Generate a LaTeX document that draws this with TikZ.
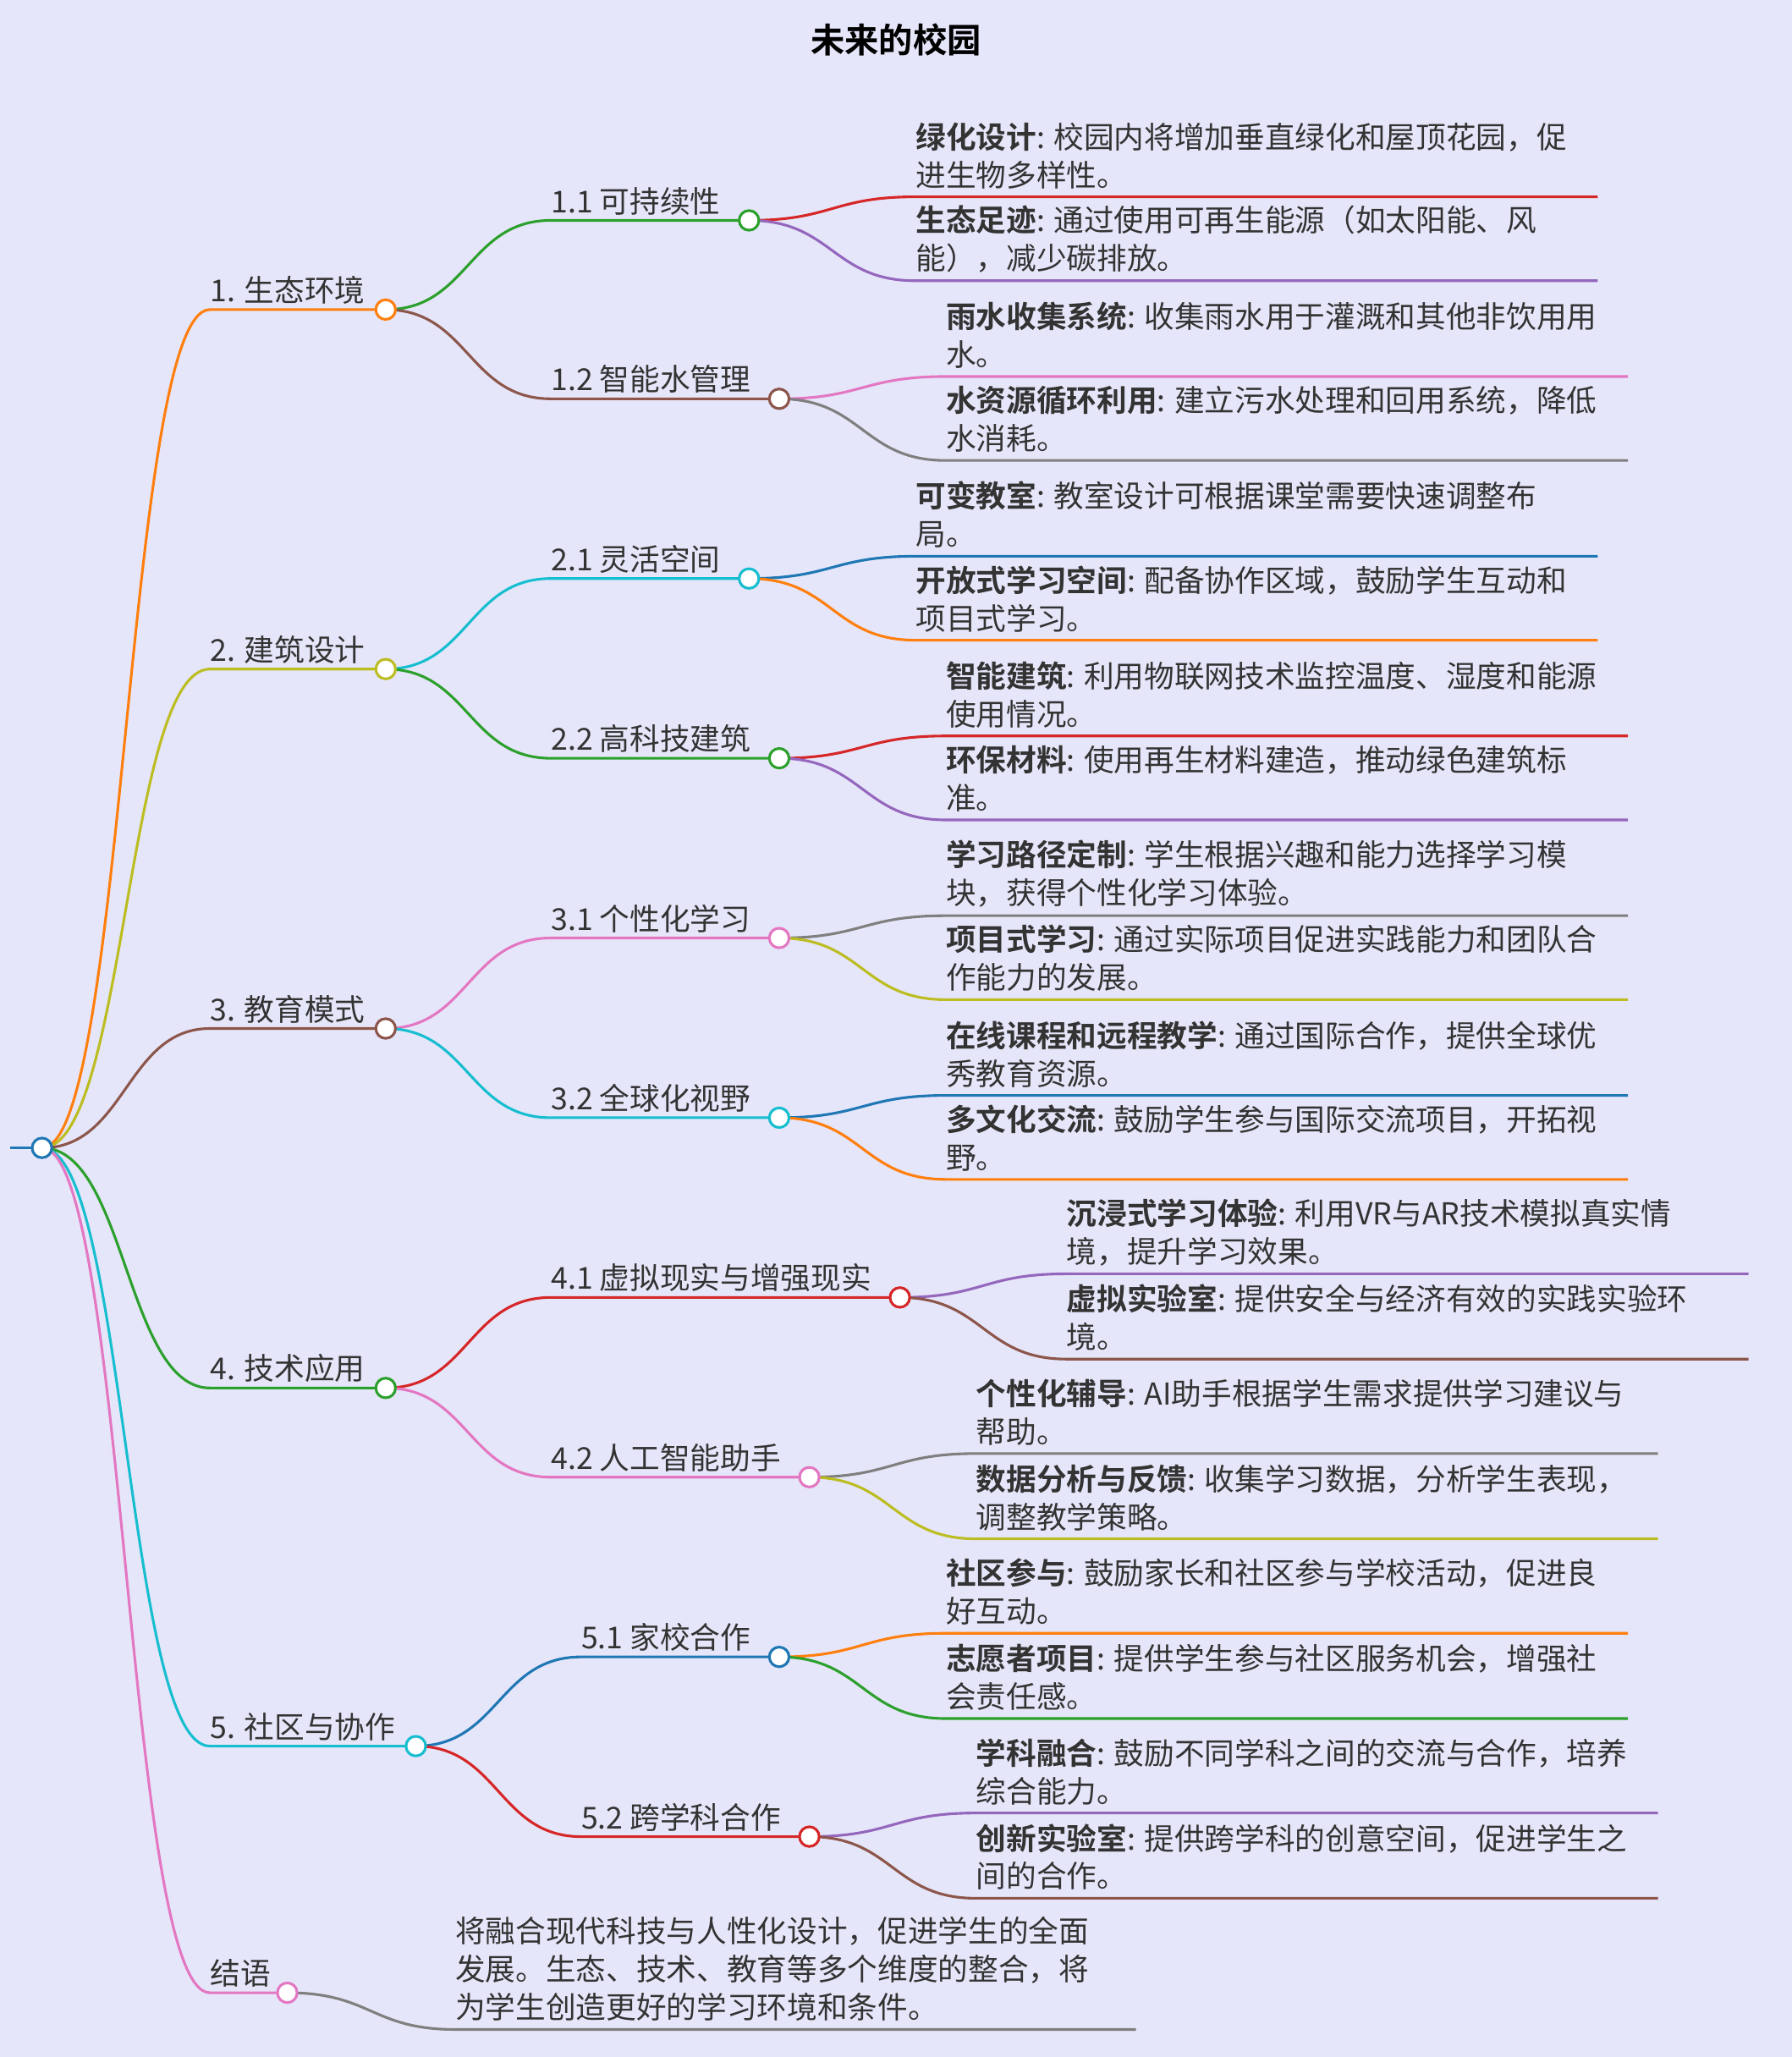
\documentclass[tikz,border=0pt]{standalone}
\usepackage{fontspec}
\setmainfont{Noto Sans CJK SC}[BoldFont={Noto Sans CJK SC Bold}]
\definecolor{bg}{HTML}{E6E6FA}
\definecolor{cO}{HTML}{FF7F0E}\definecolor{cG}{HTML}{2CA02C}\definecolor{cR}{HTML}{D62728}
\definecolor{cP}{HTML}{9467BD}\definecolor{cB}{HTML}{8C564B}\definecolor{cK}{HTML}{E377C2}
\definecolor{cY}{HTML}{7F7F7F}\definecolor{cL}{HTML}{BCBD22}\definecolor{cC}{HTML}{17BECF}
\definecolor{cU}{HTML}{1F77B4}\definecolor{tx}{HTML}{333333}
\newcommand\mmedge[6]{\draw[#1,line width=2pt] (#2,#3) .. controls ({(#2+#4)/2},#3) and ({(#2+#4)/2},#5) .. (#4,#5) -- ({#6},#5);}
\newcommand\mmdot[4]{\node[draw=#1,fill=white,circle,line width=2pt,minimum size=15pt,inner sep=0] (#4) at (#2,#3) {};}
\newcommand\mmlab[3]{\node[anchor=south west,inner sep=0,font=\fontsize{23}{29}\selectfont,text=tx] at (#1,{#2-4}) {#3};}
\newcommand\mmleaf[5]{\mmedge{#3}{#1}{#2}{#4}{#5}{#4+520}}
\begin{document}
\begin{tikzpicture}[x=1pt,y=-1pt]
\fill[bg] (0,0) rectangle (1366,1568);
\useasboundingbox (0,0) rectangle (1366,1568);
\node[font=\fontsize{26}{30}\selectfont\bfseries] (title) at (683,30) {未来的校园};
% level 1
\draw[cU,line width=2pt] (8,875) -- (32,875);
\mmedge{cO}{32}{875}{160}{236}{294}
\mmedge{cL}{32}{875}{160}{510}{294}
\mmedge{cB}{32}{875}{160}{784}{294}
\mmedge{cG}{32}{875}{160}{1058}{294}
\mmedge{cC}{32}{875}{160}{1331}{317}
\mmedge{cK}{32}{875}{160}{1519}{219}
\mmlab{160}{236}{1. 生态环境}\mmlab{160}{510}{2. 建筑设计}\mmlab{160}{784}{3. 教育模式}
\mmlab{160}{1058}{4. 技术应用}\mmlab{160}{1331}{5. 社区与协作}\mmlab{160}{1519}{结语}
% level 2
\mmedge{cG}{294}{236}{420}{168}{571}\mmedge{cB}{294}{236}{420}{304}{594}
\mmedge{cC}{294}{510}{420}{441}{571}\mmedge{cG}{294}{510}{420}{578}{594}
\mmedge{cK}{294}{784}{420}{715}{594}\mmedge{cC}{294}{784}{420}{852}{594}
\mmedge{cR}{294}{1058}{420}{989}{686}\mmedge{cK}{294}{1058}{420}{1126}{617}
\mmedge{cU}{317}{1331}{443}{1263}{594}\mmedge{cR}{317}{1331}{443}{1400}{617}
\mmlab{420}{168}{1.1 可持续性}\mmlab{420}{304}{1.2 智能水管理}
\mmlab{420}{441}{2.1 灵活空间}\mmlab{420}{578}{2.2 高科技建筑}
\mmlab{420}{715}{3.1 个性化学习}\mmlab{420}{852}{3.2 全球化视野}
\mmlab{420}{989}{4.1 虚拟现实与增强现实}\mmlab{420}{1126}{4.2 人工智能助手}
\mmlab{443}{1263}{5.1 家校合作}\mmlab{443}{1400}{5.2 跨学科合作}
% leaves
\mmleaf{571}{168}{cR}{698}{150}\mmleaf{571}{168}{cP}{698}{214}
\mmleaf{594}{304}{cK}{721}{287}\mmleaf{594}{304}{cY}{721}{351}
\mmleaf{571}{441}{cU}{698}{424}\mmleaf{571}{441}{cO}{698}{488}
\mmleaf{594}{578}{cR}{721}{561}\mmleaf{594}{578}{cP}{721}{625}
\mmleaf{594}{715}{cY}{721}{698}\mmleaf{594}{715}{cL}{721}{762}
\mmleaf{594}{852}{cU}{721}{835}\mmleaf{594}{852}{cO}{721}{899}
\mmleaf{686}{989}{cP}{813}{971}\mmleaf{686}{989}{cB}{813}{1036}
\mmleaf{617}{1126}{cY}{744}{1108}\mmleaf{617}{1126}{cL}{744}{1173}
\mmleaf{594}{1263}{cO}{721}{1245}\mmleaf{594}{1263}{cG}{721}{1310}
\mmleaf{617}{1400}{cP}{744}{1382}\mmleaf{617}{1400}{cB}{744}{1447}
\mmedge{cY}{219}{1519}{347}{1547}{866}
% leaf texts
\tikzset{lt/.style={anchor=south west,inner sep=0,align=left,font=\fontsize{23}{29}\selectfont,text=tx}}
\node[lt] at (698,144) {\textbf{绿化设计}: 校园内将增加垂直绿化和屋顶花园，促\\进生物多样性。};
\node[lt] at (698,208) {\textbf{生态足迹}: 通过使用可再生能源（如太阳能、风\\能），减少碳排放。};
\node[lt] at (721,281) {\textbf{雨水收集系统}: 收集雨水用于灌溉和其他非饮用用\\水。};
\node[lt] at (721,345) {\textbf{水资源循环利用}: 建立污水处理和回用系统，降低\\水消耗。};
\node[lt] at (698,418) {\textbf{可变教室}: 教室设计可根据课堂需要快速调整布\\局。};
\node[lt] at (698,482) {\textbf{开放式学习空间}: 配备协作区域，鼓励学生互动和\\项目式学习。};
\node[lt] at (721,555) {\textbf{智能建筑}: 利用物联网技术监控温度、湿度和能源\\使用情况。};
\node[lt] at (721,619) {\textbf{环保材料}: 使用再生材料建造，推动绿色建筑标\\准。};
\node[lt] at (721,692) {\textbf{学习路径定制}: 学生根据兴趣和能力选择学习模\\块，获得个性化学习体验。};
\node[lt] at (721,756) {\textbf{项目式学习}: 通过实际项目促进实践能力和团队合\\作能力的发展。};
\node[lt] at (721,829) {\textbf{在线课程和远程教学}: 通过国际合作，提供全球优\\秀教育资源。};
\node[lt] at (721,893) {\textbf{多文化交流}: 鼓励学生参与国际交流项目，开拓视\\野。};
\node[lt] at (813,965) {\textbf{沉浸式学习体验}: 利用VR与AR技术模拟真实情\\境，提升学习效果。};
\node[lt] at (813,1030) {\textbf{虚拟实验室}: 提供安全与经济有效的实践实验环\\境。};
\node[lt] at (744,1102) {\textbf{个性化辅导}: AI助手根据学生需求提供学习建议与\\帮助。};
\node[lt] at (744,1167) {\textbf{数据分析与反馈}: 收集学习数据，分析学生表现，\\调整教学策略。};
\node[lt] at (721,1239) {\textbf{社区参与}: 鼓励家长和社区参与学校活动，促进良\\好互动。};
\node[lt] at (721,1304) {\textbf{志愿者项目}: 提供学生参与社区服务机会，增强社\\会责任感。};
\node[lt] at (744,1376) {\textbf{学科融合}: 鼓励不同学科之间的交流与合作，培养\\综合能力。};
\node[lt] at (744,1441) {\textbf{创新实验室}: 提供跨学科的创意空间，促进学生之\\间的合作。};
\node[lt] at (347,1541) {将融合现代科技与人性化设计，促进学生的全面\\发展。生态、技术、教育等多个维度的整合，将\\为学生创造更好的学习环境和条件。};
% dots
\mmdot{cU}{32}{875}{root}
\mmdot{cO}{294}{236}{a}\mmdot{cL}{294}{510}{b}\mmdot{cB}{294}{784}{c}
\mmdot{cG}{294}{1058}{d}\mmdot{cC}{317}{1331}{e}\mmdot{cK}{219}{1519}{f}
\mmdot{cG}{571}{168}{a1}\mmdot{cB}{594}{304}{a2}\mmdot{cC}{571}{441}{b1}\mmdot{cG}{594}{578}{b2}
\mmdot{cK}{594}{715}{c1}\mmdot{cC}{594}{852}{c2}\mmdot{cR}{686}{989}{d1}\mmdot{cK}{617}{1126}{d2}
\mmdot{cU}{594}{1263}{e1}\mmdot{cR}{617}{1400}{e2}
\end{tikzpicture}
\end{document}
